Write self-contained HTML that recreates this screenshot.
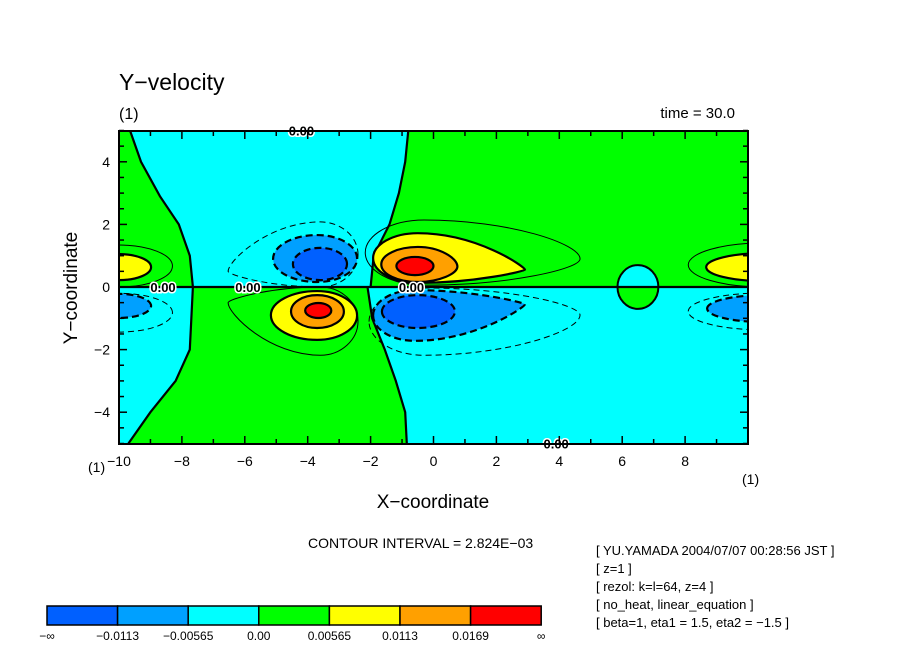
<!DOCTYPE html>
<html><head><meta charset="utf-8"><style>
body{margin:0;background:#fff;}
svg{display:block;font-family:"Liberation Sans",sans-serif;}
</style></head><body>
<svg id="chart" width="904" height="654" viewBox="0 0 904 654" xmlns="http://www.w3.org/2000/svg">
<defs>
<clipPath id="plotclip"><rect x="119" y="131" width="629" height="313"/></clipPath>
<clipPath id="topclip"><rect x="119" y="131" width="629" height="156"/></clipPath>
<clipPath id="botclip"><rect x="119" y="287" width="629" height="157"/></clipPath>
</defs>
<rect width="904" height="654" fill="#fff"/>
<text x="119" y="90" font-size="23">Y−velocity</text>
<text x="119" y="119" font-size="16">(1)</text>
<text x="735" y="118" font-size="15" text-anchor="end">time = 30.0</text>
<g id="regions" clip-path="url(#plotclip)"></g>
<g id="blobsTop" clip-path="url(#topclip)"></g>
<g id="blobsBot" clip-path="url(#botclip)"></g>
<g id="overlay"></g>
<g id="axes"></g>
<text x="433" y="508" font-size="19" text-anchor="middle">X−coordinate</text>
<text transform="translate(77,288) rotate(-90)" font-size="19" text-anchor="middle">Y−coordinate</text>
<text x="88" y="472" font-size="14">(1)</text>
<text x="742" y="484" font-size="14">(1)</text>
<text x="308" y="548" font-size="14">CONTOUR INTERVAL = 2.824E−03</text>
<g font-size="13">
<text x="596" y="555">[ YU.YAMADA 2004/07/07 00:28:56 JST ]</text>
<text x="596" y="573">[ z=1 ]</text>
<text x="596" y="591">[ rezol: k=l=64, z=4 ]</text>
<text x="596" y="609">[ no_heat, linear_equation ]</text>
<text x="596" y="627">[ beta=1, eta1 = 1.5, eta2 = −1.5 ]</text>
</g>
<g id="colorbar"></g>
</svg>
<script>
const NS="http://www.w3.org/2000/svg";
const levels=["-∞","-0.0113","-0.00565","0.00","0.00565","0.0113","0.0169","∞"];
const levelColors=["#0060ff","#00a0ff","#00ffff","#00ff00","#ffff00","#ffa000","#ff0000"];
const xTicks=[-10,-8,-6,-4,-2,0,2,4,6,8];
const yTicks=[-4,-2,0,2,4];
// boundaries of zero contour: [y, x]
const topLeftBoundary=[[5,-9.65],[4,-9.3],[2.9,-8.7],[2,-8.1],[1,-7.75],[0,-7.65]];
const topMidBoundary=[[5,-0.8],[4,-0.9],[3,-1.1],[2,-1.4],[1,-1.9],[0,-2.0]];
const botLeftBoundary=[[0,-7.65],[-2,-7.75],[-3,-8.2],[-4,-9.0],[-5,-9.7]];
const botMidBoundary=[[0,-2.1],[-1,-1.95],[-2,-1.55],[-3,-1.2],[-4,-0.9],[-5,-0.85]];
// blob levels: [x0, xa, xt, yA, yB, yTip, sharp, fill, style]
const blobTop=[
 [-2.40,-3.6,-6.53,0,2.08,0.5,0.6,"none","dash"],
 [-2.43,-3.7,-5.10,0.16,1.66,0.9,0,"#00a0ff","thickdash"],
 [-2.75,-3.6,-4.47,0.22,1.25,0.73,0,"#0060ff","thickdash"],
 [-2.17,-0.3,4.66,0.06,2.14,0.9,0.3,"none","thin"],
 [-1.92,-0.5,2.91,0.13,1.72,0.55,0.85,"#ffff00","thick"],
 [-1.66,-0.5,0.76,0.16,1.28,0.65,0.2,"#ffa000","thick"],
 [-1.18,-0.59,0.0,0.38,0.96,0.67,0,"#ff0000","thick"],
 [8.1,10.5,12,0.0,1.41,0.7,0,"none","thin"],
 [8.67,10.5,12,0.19,1.08,0.63,0,"#ffff00","thick"],
 [-8.3,-10,-11.7,0.0,1.34,0.67,0,"none","thin"],
 [-8.98,-10,-11,0.22,1.05,0.63,0,"#ffff00","thick"]
];
const blobBot=[
 [-2.40,-3.6,-6.53,-2.18,0,-0.5,0.6,"none","thin"],
 [-2.43,-3.7,-5.17,-1.69,-0.13,-0.9,0,"#ffff00","thick"],
 [-2.85,-3.7,-4.53,-1.31,-0.26,-0.78,0,"#ffa000","thick"],
 [-3.25,-3.66,-4.08,-0.99,-0.51,-0.75,0,"#ff0000","thick"],
 [-2.05,-0.3,4.66,-2.18,-0.03,-0.9,0.3,"none","dash"],
 [-1.92,-0.6,2.91,-1.72,-0.1,-0.55,0.85,"#00a0ff","thickdash"],
 [-1.64,-0.5,0.68,-1.31,-0.26,-0.78,0,"#0060ff","thickdash"],
 [8.1,10.5,12,-1.37,-0.19,-0.8,0,"none","dash"],
 [8.7,10.5,12,-1.12,-0.26,-0.7,0,"#00a0ff","thickdash"],
 [-8.3,-10,-11.7,-1.44,-0.2,-0.8,0,"none","dash"],
 [-8.98,-10,-11,-0.99,-0.22,-0.6,0,"#00a0ff","thickdash"]
];
const circle=[6.5,0,0.65,0.7];
const zeroLabels=[[-8.6,0],[-5.9,0],[-0.7,0],[-4.2,5],[3.9,-5]];

const sx=x=>119+(x+10)*31.45;
const sy=y=>287-y*31.3;
function mk(tag,attrs,parent){const e=document.createElementNS(NS,tag);for(const k in attrs)e.setAttribute(k,attrs[k]);parent.appendChild(e);return e;}
const regions=document.getElementById('regions');
const P=(x,y)=>sx(x).toFixed(1)+","+sy(y).toFixed(1);
function line(b){return b.map(p=>P(p[1],p[0])).join(" L");}
// top half: green base, cyan middle
let r=mk('rect',{x:119,y:131,width:629,height:156,fill:"#00ff00"},regions);

r=mk('path',{d:"M"+line(topLeftBoundary)+" L"+line(topMidBoundary.slice().reverse())+"Z",fill:"#00ffff"},regions);

r=mk('rect',{x:119,y:287,width:629,height:157,fill:"#00ffff"},regions);

r=mk('path',{d:"M"+line(botLeftBoundary)+" L"+line(botMidBoundary.slice().reverse())+"Z",fill:"#00ff00"},regions);

[topLeftBoundary,topMidBoundary,botLeftBoundary,botMidBoundary].forEach(b=>{
 const l=mk('path',{d:"M"+line(b),fill:"none",stroke:"#000","stroke-width":2.2},regions);
 
 
});
function tear(b){
 const [x0,xa,xt,yA,yB,yt,sh]=b;const k=0.55;
 const ym=(yA+yB)/2;
 const X0=sx(x0),XA=sx(xa),XT=sx(xt),YT=sy(Math.max(yA,yB)),YB=sy(Math.min(yA,yB)),YM=sy(ym),YTIP=sy(yt);
 const q=1-sh;
 return `M${X0},${YM} C${X0},${YM+(YT-YM)*k} ${XA+(X0-XA)*k},${YT} ${XA},${YT}`+
 ` C${XA+(XT-XA)*k},${YT} ${XT},${YTIP+(YT-YTIP)*k*q} ${XT},${YTIP}`+
 ` C${XT},${YTIP+(YB-YTIP)*k*q} ${XA+(XT-XA)*k},${YB} ${XA},${YB}`+
 ` C${XA+(X0-XA)*k},${YB} ${X0},${YM+(YB-YM)*k} ${X0},${YM}Z`;
}
function drawBlobs(arr,g,nm){
 arr.forEach(b=>{
  const st=b[8];
  const a={d:tear(b),fill:b[7],stroke:"#000","stroke-width":(st.startsWith("thick")?2.2:1)};
  if(st.indexOf("dash")>=0)a["stroke-dasharray"]=st.startsWith("thick")?"7,4":"6,4";
  const e=mk('path',a,g);
  
  
 });
}
drawBlobs(blobTop,document.getElementById('blobsTop'),'contour-level-upper');
drawBlobs(blobBot,document.getElementById('blobsBot'),'contour-level-lower');
const ov=document.getElementById('overlay');
const cx=sx(circle[0]),cyy=sy(circle[1]),rx=circle[2]*31.45,ry=circle[3]*31.3;
let c=mk('path',{d:`M${cx-rx},${cyy} A${rx},${ry} 0 0 1 ${cx+rx},${cyy}Z`,fill:"#00ffff",stroke:"#000","stroke-width":2},ov);

c=mk('path',{d:`M${cx-rx},${cyy} A${rx},${ry} 0 0 0 ${cx+rx},${cyy}Z`,fill:"#00ff00",stroke:"#000","stroke-width":2},ov);

const zl=mk('line',{x1:119,y1:287,x2:748,y2:287,stroke:"#000","stroke-width":2.2},ov);


zeroLabels.forEach(p=>{
 const t=mk('text',{x:sx(p[0]),y:sy(p[1])+5,"font-size":13,"text-anchor":"middle","font-weight":"bold",stroke:"#fff","stroke-width":3,"paint-order":"stroke"},ov);
 t.textContent="0.00";
 
 
});
const ax=document.getElementById('axes');
const fr=mk('rect',{x:119,y:131,width:629,height:313,fill:"none",stroke:"#000","stroke-width":2},ax);

for(let x=-10;x<=9.9;x+=1){const maj=(x%2===0);const L=maj?8:5;
 mk('line',{x1:sx(x),y1:444,x2:sx(x),y2:444-L,stroke:"#000","stroke-width":1.5},ax);
 mk('line',{x1:sx(x),y1:131,x2:sx(x),y2:131+L,stroke:"#000","stroke-width":1.5},ax);}
for(let y=-5;y<=5;y+=0.5){const maj=(Math.abs(y%2)<1e-6);const L=maj?8:5;
 mk('line',{x1:119,y1:sy(y),x2:119+L,y2:sy(y),stroke:"#000","stroke-width":1.5},ax);
 mk('line',{x1:748,y1:sy(y),x2:748-L,y2:sy(y),stroke:"#000","stroke-width":1.5},ax);}
xTicks.forEach(v=>{const t=mk('text',{x:sx(v),y:466,"font-size":14,"text-anchor":"middle"},ax);t.textContent=(v<0?"−":"")+Math.abs(v);
 });
yTicks.forEach(v=>{const t=mk('text',{x:110,y:sy(v)+5,"font-size":14,"text-anchor":"end"},ax);t.textContent=(v<0?"−":"")+Math.abs(v);
 });
const cb=document.getElementById('colorbar');
const bx0=47,bw=70.6;
levelColors.forEach((col,i)=>{const e=mk('rect',{x:bx0+i*bw,y:606,width:bw,height:19,fill:col,stroke:"#000","stroke-width":1.5},cb);
 });
levels.forEach((l,i)=>{const t=mk('text',{x:bx0+i*bw,y:640,"font-size":12,"text-anchor":"middle"},cb);t.textContent=l.replace("-","−");
 });
</script>
</body></html>
